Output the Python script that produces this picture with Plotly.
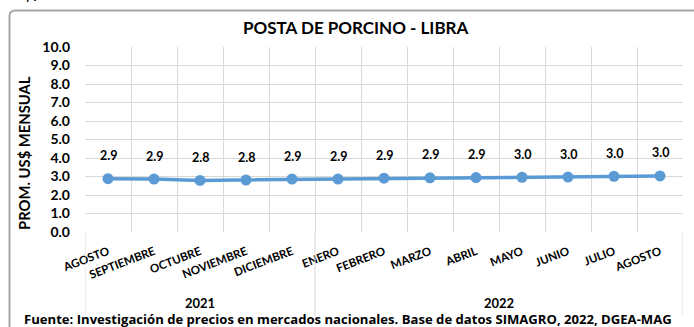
import plotly.graph_objects as go

# Monthly average price, US$ per pound
months = ["AGOSTO", "SEPTIEMBRE", "OCTUBRE", "NOVIEMBRE", "DICIEMBRE",
          "ENERO", "FEBRERO", "MARZO", "ABRIL", "MAYO", "JUNIO", "JULIO", "AGOSTO"]
years = ["2021", "2022"]
months_per_year = [5, 8]
prices = [2.88, 2.86, 2.79, 2.81, 2.86, 2.86, 2.91, 2.93, 2.94, 2.96, 2.97, 3.01, 3.03]
y_ticks = [0, 1, 2, 3, 4, 5, 6, 7, 8, 9, 10]

W, H = 694, 327
L, R, T, B = 85, 11, 47, 95
pw, ph = W - L - R, H - T - B

def px_x(px):
    return (px - L) / pw

def px_y(py):
    return (H - B - py) / ph

FONT = "Lato"
NOTE_FONT = "Open Sans"
BLUE = "#5B9BD5"
GRID = "#D9D9D9"
TXT = "#000000"

xs = list(range(len(months)))

fig = go.Figure()
fig.add_trace(go.Scatter(
    x=xs, y=prices, mode="lines+markers",
    line=dict(color=BLUE, width=3.5),
    marker=dict(color=BLUE, size=11),
    hoverinfo="skip", showlegend=False,
))

# value labels above each point
for x, v in zip(xs, prices):
    fig.add_annotation(x=x, y=v, text=f"<b>{v:.1f}</b>", showarrow=False,
                       yanchor="middle", yshift=23,
                       font=dict(family=FONT, size=12.5, color=TXT))

# year labels and group separators
start = 0
bounds = [-0.5]
for yr, n in zip(years, months_per_year):
    fig.add_annotation(x=start + (n - 1) / 2, y=px_y(303), xref="x", yref="paper",
                       xanchor="center", yanchor="middle",
                       text=f"<b>{yr}</b>", showarrow=False,
                       font=dict(family=FONT, size=13, color=TXT))
    start += n
    bounds.append(start - 0.5)
for b in bounds:
    fig.add_shape(type="line", xref="x", yref="paper", x0=b, x1=b,
                  y0=0, y1=px_y(315), line=dict(color=GRID, width=1))

# chart title
fig.add_annotation(x=px_x(356), y=px_y(27), xref="paper", yref="paper",
                   xanchor="center", yanchor="middle",
                   text="<b>POSTA DE PORCINO - LIBRA</b>", showarrow=False,
                   font=dict(family=FONT, size=17, color=TXT))

# y-axis title
fig.add_annotation(x=px_x(24), y=px_y(153), xref="paper", yref="paper",
                   xanchor="center", yanchor="middle", textangle=-90,
                   text="<b>PROM. US$ MENSUAL</b>", showarrow=False,
                   font=dict(family=FONT, size=14.8, color=TXT))

# source note
fig.add_annotation(x=px_x(348), y=px_y(319), xref="paper", yref="paper",
                   xanchor="center", yanchor="middle",
                   text="<b>Fuente: Investigación de precios en mercados nacionales. Base de datos SIMAGRO, 2022, DGEA-MAG</b>",
                   showarrow=False, font=dict(family=NOTE_FONT, size=13.1, color=TXT))

# unit heading above the frame
fig.add_annotation(x=px_x(0), y=px_y(6), xref="paper", yref="paper",
                   xanchor="left", yanchor="bottom",
                   text="<b><i>US$/ Lb</i></b>", showarrow=False,
                   font=dict(family=FONT, size=18, color=TXT))

# rounded frame around the chart
x0, y0 = px_x(9.5), px_y(10.5)
x1, y1 = px_x(W + 20), px_y(H + 20)
r = 0.01
fig.add_shape(type="path", xref="paper", yref="paper",
              path=(f"M {x0},{y1} L {x0},{y0 - r*3} Q {x0},{y0} {x0 + r},{y0} "
                    f"L {x1},{y0}"),
              line=dict(color="#A6A6A6", width=2))

fig.update_layout(
    width=W, height=H,
    margin=dict(l=L, r=R, t=T, b=B),
    paper_bgcolor="white", plot_bgcolor="white",
    font=dict(family=FONT, color=TXT),
    xaxis=dict(
        range=[-0.5, len(months) - 0.5],
        tickvals=xs, ticktext=[f"<b>{m}</b>" for m in months],
        tickangle=-21, tickfont=dict(family=FONT, size=11.5, color=TXT),
        showgrid=False, zeroline=False, showline=False, ticks="",
        ticklabelstandoff=10,
        minor=dict(tickvals=[i - 0.5 for i in range(len(months) + 1)],
                   showgrid=True, gridcolor=GRID, gridwidth=1, ticks=""),
    ),
    yaxis=dict(
        range=[0, 10], tickvals=y_ticks,
        ticktext=[f"<b>{t:.1f}</b>" for t in y_ticks],
        tickfont=dict(family=FONT, size=14, color=TXT),
        showgrid=True, gridcolor=GRID, gridwidth=1,
        zeroline=False, showline=False, ticks="", ticklabelstandoff=14,
    ),
)

fig.write_html("out.html")
